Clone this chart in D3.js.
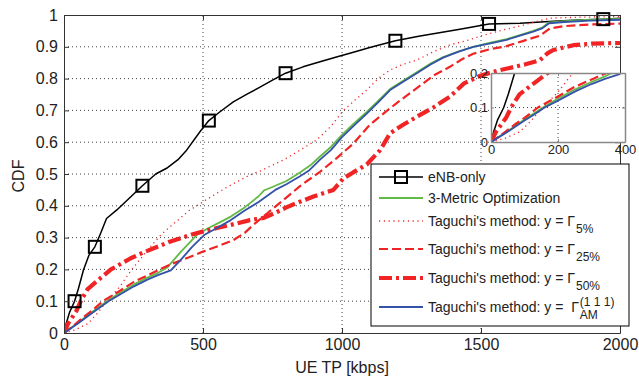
<!DOCTYPE html>
<html>
<head>
<meta charset="utf-8">
<script src="https://cdn.jsdelivr.net/npm/d3@7"></script>
<style>
  body { margin: 0; background: #fff; }
  svg text { font-family: "Liberation Sans", Arial, Helvetica, sans-serif; fill: #222; }
</style>
</head>
<body>
<svg id="chart" width="639" height="380"></svg>
<script>
// UE throughput CDFs, [kbps, CDF]
const enbOnly = [[0,0],[8,0.03],[20,0.065],[38,0.1],[52,0.14],[70,0.198],[90,0.245],[111,0.271],[130,0.31],[153,0.36],[190,0.387],[230,0.42],[282,0.463],[330,0.5],[369,0.518],[410,0.545],[441,0.575],[489,0.633],[521,0.668],[560,0.695],[609,0.727],[660,0.752],[705,0.773],[750,0.795],[797,0.817],[860,0.837],[921,0.853],[980,0.868],[1041,0.883],[1100,0.898],[1192,0.919],[1281,0.934],[1350,0.944],[1424,0.955],[1529,0.972],[1640,0.974],[1760,0.98],[1850,0.984],[1940,0.987],[2000,0.99]];
const enbMarkers = [[38,0.1],[111,0.271],[282,0.463],[521,0.668],[797,0.817],[1192,0.919],[1529,0.972],[1940,0.987]];

const metric3 = [[0,0],[20,0.013],[50,0.032],[100,0.065],[160,0.103],[200,0.126],[250,0.152],[300,0.174],[340,0.19],[370,0.205],[420,0.255],[480,0.31],[520,0.33],[560,0.348],[600,0.366],[650,0.395],[700,0.43],[719,0.448],[760,0.463],[800,0.478],[849,0.505],[890,0.53],[921,0.555],[960,0.585],[999,0.622],[1040,0.657],[1089,0.695],[1130,0.73],[1173,0.767],[1220,0.793],[1269,0.82],[1320,0.848],[1364,0.868],[1420,0.886],[1472,0.9],[1530,0.912],[1592,0.924],[1640,0.937],[1688,0.95],[1720,0.96],[1745,0.977],[1800,0.981],[1892,0.985],[2000,0.988]];

const taguchi5 = [[0,0],[40,0.01],[87,0.03],[120,0.062],[150,0.095],[200,0.145],[244,0.2],[300,0.26],[350,0.31],[396,0.345],[450,0.385],[504,0.415],[560,0.445],[610,0.47],[669,0.497],[707,0.51],[789,0.544],[849,0.575],[909,0.607],[960,0.65],[1005,0.7],[1050,0.735],[1089,0.764],[1130,0.8],[1173,0.827],[1220,0.845],[1269,0.858],[1330,0.885],[1388,0.906],[1450,0.92],[1508,0.936],[1580,0.953],[1652,0.968],[1700,0.98],[1750,0.99],[1850,0.993],[2000,0.995]];

const taguchi25 = [[0,0],[30,0.02],[70,0.05],[100,0.07],[140,0.1],[200,0.132],[250,0.16],[309,0.185],[344,0.2],[393,0.219],[450,0.238],[500,0.256],[560,0.275],[609,0.292],[650,0.315],[681,0.34],[729,0.375],[789,0.418],[849,0.462],[921,0.507],[981,0.55],[1040,0.595],[1100,0.655],[1149,0.69],[1200,0.725],[1269,0.77],[1330,0.81],[1388,0.837],[1430,0.86],[1472,0.878],[1530,0.892],[1592,0.902],[1650,0.918],[1712,0.935],[1748,0.958],[1800,0.965],[1892,0.97],[2000,0.973]];

const taguchi50 = [[0,0],[15,0.03],[30,0.05],[45,0.07],[60,0.1],[85,0.138],[124,0.167],[169,0.2],[240,0.235],[290,0.255],[336,0.271],[380,0.287],[420,0.298],[460,0.31],[504,0.32],[550,0.33],[600,0.34],[669,0.355],[719,0.362],[760,0.378],[800,0.395],[849,0.413],[900,0.43],[969,0.45],[1005,0.486],[1040,0.505],[1089,0.53],[1137,0.575],[1173,0.628],[1220,0.655],[1269,0.68],[1330,0.71],[1388,0.743],[1439,0.785],[1500,0.81],[1560,0.825],[1616,0.836],[1660,0.845],[1712,0.858],[1740,0.88],[1760,0.89],[1832,0.905],[1900,0.91],[2000,0.912]];

const taguchiAM = [[0,0],[20,0.012],[50,0.03],[100,0.062],[129,0.08],[160,0.1],[200,0.12],[250,0.146],[300,0.168],[340,0.183],[384,0.197],[420,0.23],[460,0.27],[504,0.308],[550,0.33],[600,0.355],[650,0.385],[700,0.412],[760,0.45],[800,0.468],[849,0.493],[880,0.51],[921,0.545],[960,0.575],[999,0.615],[1040,0.65],[1089,0.69],[1130,0.725],[1173,0.764],[1220,0.79],[1269,0.817],[1320,0.845],[1364,0.866],[1420,0.885],[1472,0.9],[1530,0.91],[1592,0.922],[1640,0.935],[1688,0.948],[1720,0.958],[1745,0.974],[1800,0.978],[1892,0.982],[2000,0.985]];

const xTicks = [0, 500, 1000, 1500, 2000];
const yTicks = [0, 0.1, 0.2, 0.3, 0.4, 0.5, 0.6, 0.7, 0.8, 0.9, 1];
const yTickLabels = ["0", "0.1", "0.2", "0.3", "0.4", "0.5", "0.6", "0.7", "0.8", "0.9", "1"];
const insetXTicks = [0, 200, 400];
const insetYTicks = [0, 0.1, 0.2];
const insetYTickLabels = ["0", "0.1", "0.2"];

const RED = "#f02424";
const series = [
  { name: "enb", data: enbOnly, color: "#000", width: 1.5, dash: null },
  { name: "m3", data: metric3, color: "#63b945", width: 1.8, dash: null },
  { name: "t5", data: taguchi5, color: RED, width: 1.3, dash: "1.2,3.6" },
  { name: "t25", data: taguchi25, color: RED, width: 2.2, dash: "9,4" },
  { name: "t50", data: taguchi50, color: RED, width: 4.2, dash: "13,4,3,4" },
  { name: "am", data: taguchiAM, color: "#3352a8", width: 1.8, dash: null }
];

const svg = d3.select("#chart");
const x = d3.scaleLinear().domain([0, 2000]).range([64, 620]);
const y = d3.scaleLinear().domain([0, 1]).range([333, 15]);

// clip for the main axes
svg.append("clipPath").attr("id", "mainClip")
  .append("rect").attr("x", 64).attr("y", 15).attr("width", 556).attr("height", 318);

// dotted grid
const grid = svg.append("g").attr("stroke", "#444").attr("stroke-width", 1).attr("stroke-dasharray", "1,3");
xTicks.slice(1, -1).forEach(t => grid.append("line").attr("x1", x(t)).attr("x2", x(t)).attr("y1", y(0)).attr("y2", y(1)));
yTicks.slice(1, -1).forEach(t => grid.append("line").attr("y1", y(t)).attr("y2", y(t)).attr("x1", x(0)).attr("x2", x(2000)));

function drawSeries(g, xs, ys) {
  const line = d3.line().x(d => xs(d[0])).y(d => ys(d[1]));
  series.forEach(s => {
    g.append("path").datum(s.data)
      .attr("d", line)
      .attr("fill", "none")
      .attr("stroke", s.color)
      .attr("stroke-width", s.width)
      .attr("stroke-dasharray", s.dash)
      .attr("stroke-linejoin", "round");
  });
}

const plot = svg.append("g").attr("clip-path", "url(#mainClip)");
drawSeries(plot, x, y);

// square markers on eNB-only curve
svg.append("g").selectAll("rect").data(enbMarkers).join("rect")
  .attr("x", d => x(d[0]) - 6).attr("y", d => y(d[1]) - 6)
  .attr("width", 12).attr("height", 12)
  .attr("fill", "none").attr("stroke", "#000").attr("stroke-width", 2);

// axes with inward ticks, boxed
function styleAxis(g) {
  g.selectAll(".domain").attr("stroke", "#333");
  g.selectAll(".tick line").attr("stroke", "#333");
  g.selectAll(".tick text").attr("font-size", 16).attr("fill", "#222")
    .attr("font-family", "Liberation Sans, Arial, sans-serif");
}
svg.append("g").attr("transform", `translate(0,${y(0)})`)
  .call(d3.axisBottom(x).tickValues(xTicks).tickSizeInner(-5).tickSizeOuter(0).tickPadding(6).tickFormat(d3.format("d")))
  .call(styleAxis);
svg.append("g").attr("transform", `translate(0,${y(1)})`)
  .call(d3.axisTop(x).tickValues(xTicks).tickSizeInner(-5).tickSizeOuter(0).tickFormat(""))
  .call(styleAxis);
svg.append("g").attr("transform", `translate(${x(0)},0)`)
  .call(d3.axisLeft(y).tickValues(yTicks).tickSizeInner(-5).tickSizeOuter(0).tickPadding(6)
    .tickFormat((d, i) => yTickLabels[i]))
  .call(styleAxis);
svg.append("g").attr("transform", `translate(${x(2000)},0)`)
  .call(d3.axisRight(y).tickValues(yTicks).tickSizeInner(-5).tickSizeOuter(0).tickFormat(""))
  .call(styleAxis);

// axis titles
svg.append("text").attr("x", 342).attr("y", 373).attr("text-anchor", "middle")
  .attr("font-size", 16).text("UE TP [kbps]");
svg.append("text").attr("transform", "translate(24,176) rotate(-90)").attr("text-anchor", "middle")
  .attr("font-size", 16).text("CDF");

// inset: zoom on the low-throughput tail
const xi = d3.scaleLinear().domain([0, 400]).range([491, 625]);
const yi = d3.scaleLinear().domain([0, 0.2]).range([142, 73]);
svg.append("rect").attr("x", 491).attr("y", 73).attr("width", 134).attr("height", 69).attr("fill", "#fff");
svg.append("clipPath").attr("id", "insetClip")
  .append("rect").attr("x", 491).attr("y", 73).attr("width", 134).attr("height", 69);
const igrid = svg.append("g").attr("stroke", "#444").attr("stroke-width", 1).attr("stroke-dasharray", "1,3");
igrid.append("line").attr("x1", xi(200)).attr("x2", xi(200)).attr("y1", yi(0)).attr("y2", yi(0.2));
igrid.append("line").attr("y1", yi(0.1)).attr("y2", yi(0.1)).attr("x1", xi(0)).attr("x2", xi(400));
const iplot = svg.append("g").attr("clip-path", "url(#insetClip)");
drawSeries(iplot, xi, yi);

function styleInset(g) {
  g.selectAll(".domain").attr("stroke", "#888").attr("stroke-width", 1.5);
  g.selectAll(".tick line").attr("stroke", "#888");
  g.selectAll(".tick text").attr("font-size", 13).attr("fill", "#333")
    .attr("font-family", "Liberation Sans, Arial, sans-serif");
}
svg.append("g").attr("transform", `translate(0,${yi(0)})`)
  .call(d3.axisBottom(xi).tickValues(insetXTicks).tickSizeInner(-3).tickSizeOuter(0).tickPadding(3).tickFormat(d3.format("d")))
  .call(styleInset);
svg.append("g").attr("transform", `translate(0,${yi(0.2)})`)
  .call(d3.axisTop(xi).tickValues(insetXTicks).tickSizeInner(-3).tickSizeOuter(0).tickFormat(""))
  .call(styleInset);
svg.append("g").attr("transform", `translate(${xi(0)},0)`)
  .call(d3.axisLeft(yi).tickValues(insetYTicks).tickSizeInner(-3).tickSizeOuter(0).tickPadding(3)
    .tickFormat((d, i) => insetYTickLabels[i]))
  .call(styleInset);
svg.append("g").attr("transform", `translate(${xi(400)},0)`)
  .call(d3.axisRight(yi).tickValues(insetYTicks).tickSizeInner(-3).tickSizeOuter(0).tickFormat(""))
  .call(styleInset);

// legend
const legendLabels = [
  { main: "eNB-only" },
  { main: "3-Metric Optimization" },
  { main: "Taguchi's method: y = \u0393", sub: "5%" },
  { main: "Taguchi's method: y = \u0393", sub: "25%" },
  { main: "Taguchi's method: y = \u0393", sub: "50%" },
  { main: "Taguchi's method: y =\u00a0 \u0393", sub: "AM", sup: "(1 1 1)" }
];
const legendRows = [177, 198, 221, 249, 278, 307];
const lg = svg.append("g");
lg.append("rect").attr("x", 371).attr("y", 164).attr("width", 258).attr("height", 162)
  .attr("fill", "#fff").attr("stroke", "#000").attr("stroke-width", 1);
series.forEach((s, i) => {
  const cy = legendRows[i];
  lg.append("line").attr("x1", 379).attr("x2", 423).attr("y1", cy).attr("y2", cy)
    .attr("stroke", s.color).attr("stroke-width", s.width).attr("stroke-dasharray", s.dash);
  if (i === 0) {
    lg.append("rect").attr("x", 395).attr("y", cy - 6).attr("width", 12).attr("height", 12)
      .attr("fill", "none").attr("stroke", "#000").attr("stroke-width", 2);
  }
  const lab = legendLabels[i];
  const t = lg.append("text").attr("x", 428).attr("y", cy + 5).attr("font-size", 14)
    .style("white-space", "pre").text(lab.main);
  const w = t.node().getComputedTextLength();
  if (lab.sub) {
    lg.append("text").attr("x", 428 + w + 1).attr("y", cy + 12).attr("font-size", 12).text(lab.sub);
  }
  if (lab.sup) {
    lg.append("text").attr("x", 428 + w + 1).attr("y", cy - 1).attr("font-size", 12).text(lab.sup);
  }
});
</script>
</body>
</html>
